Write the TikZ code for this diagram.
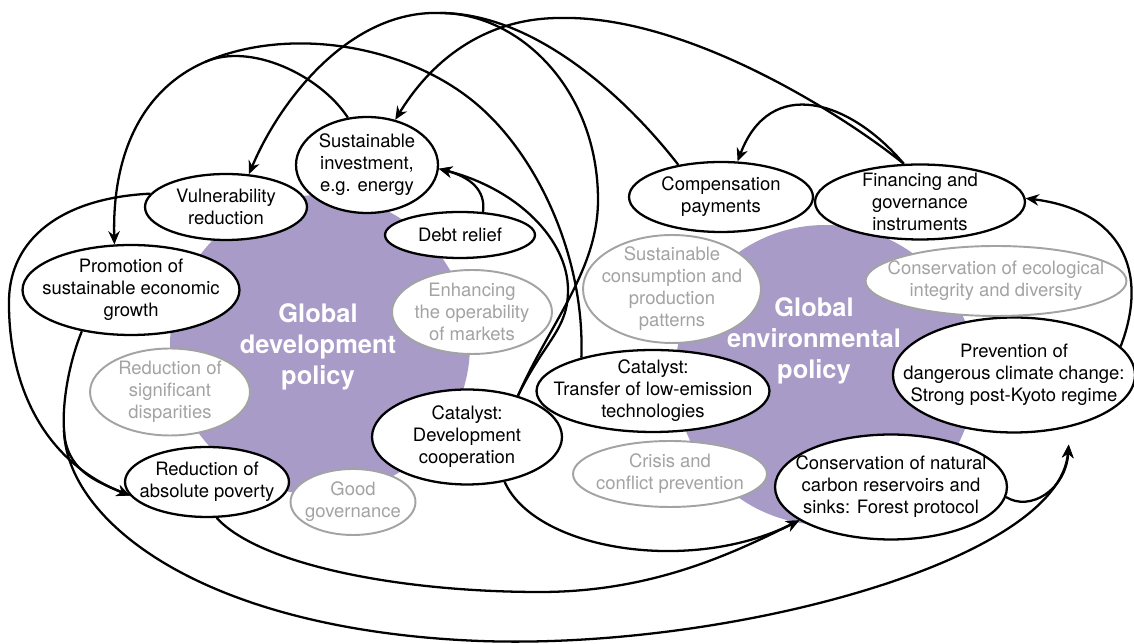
\documentclass[tikz,border=0pt]{standalone}
\usepackage{fontspec}
\setmainfont{TeX Gyre Heros}
\usetikzlibrary{shapes.geometric,arrows.meta}
\definecolor{policy}{RGB}{169,155,200}
\definecolor{faded}{RGB}{163,163,163}
\tikzset{
	bubble/.style={ellipse,draw,fill=white,line width=1.3pt,inner sep=-2cm,align=center,font=\fontsize{10.5}{12.5}\selectfont},
	ghost/.style={bubble,draw=faded,text=faded,line width=1.1pt},
	disc/.style={circle,fill=policy,minimum size=6cm},
	heading/.style={text=white,align=center,font=\fontsize{14.5}{17.6}\selectfont\bfseries},
	link/.style={line width=1.3pt,-{Stealth[length=7.5pt,width=6.5pt]}},
	feed/.style={line width=1.3pt}
}
\begin{document}
\begin{tikzpicture}[x=0.02cm,y=-0.02cm]
	\useasboundingbox (0,0) rectangle (1134,644);
	\node[disc] (devdisc) at (320,345) {};
	\node[disc] (envdisc) at (825,375) {};
	\node[heading] (devhead) at (318,347) {Global\\development\\policy};
	\node[heading] (envhead) at (814,341) {Global\\environmental\\policy};
	\node[bubble,minimum width=2.84cm,minimum height=1.92cm] (invest) at (367,165) {Sustainable\\investment,\\e.g. energy};
	\node[bubble,minimum width=3.24cm,minimum height=1.32cm] (vuln) at (226,207) {Vulnerability\\reduction};
	\node[bubble,minimum width=3.0cm,minimum height=0.92cm] (debt) at (460,235) {Debt relief};
	\node[bubble,minimum width=4.34cm,minimum height=1.8cm] (promo) at (131,290) {Promotion of\\sustainable economic\\growth};
	\node[bubble,minimum width=3.28cm,minimum height=1.4cm] (poverty) at (207,482) {Reduction of\\absolute poverty};
	\node[bubble,minimum width=3.8cm,minimum height=1.9cm] (devcoop) at (467,437) {Catalyst:\\Development\\cooperation};
	\node[bubble,minimum width=3.68cm,minimum height=1.4cm] (compens) at (721,197) {Compensation\\payments};
	\node[bubble,minimum width=4.2cm,minimum height=1.5cm] (finance) at (920,202) {Financing and\\governance\\instruments};
	\node[bubble,minimum width=4.66cm,minimum height=1.64cm] (transfer) at (653,391) {Catalyst:\\Transfer of low-emission\\technologies};
	\node[bubble,minimum width=4.84cm,minimum height=2.3cm] (prevent) at (1014,375) {Prevention of\\dangerous climate change:\\Strong post-Kyoto regime};
	\node[bubble,minimum width=4.64cm,minimum height=2.1cm] (carbon) at (891,487) {Conservation of natural\\carbon reservoirs and\\sinks: Forest protocol};
	\node[ghost,minimum width=3.2cm,minimum height=1.68cm] (markets) at (472,312) {Enhancing\\the operability\\of markets};
	\node[ghost,minimum width=3.2cm,minimum height=1.74cm] (dispar) at (170,392) {Reduction of\\significant\\disparities};
	\node[ghost,minimum width=2.5cm,minimum height=1.32cm] (govern) at (353,502) {Good\\governance};
	\node[ghost,minimum width=3.56cm,minimum height=2.16cm] (consum) at (672,289) {Sustainable\\consumption and\\production\\patterns};
	\node[ghost,minimum width=5.22cm,minimum height=1.4cm] (ecolog) at (996,281) {Conservation of ecological\\integrity and diversity};
	\node[ghost,minimum width=3.88cm,minimum height=1.32cm] (crisis) at (670,474) {Crisis and\\conflict prevention};
	\coordinate (apex) at (440,13);
	\coordinate (bend) at (205,62);
	\coordinate (fork) at (64,430);
	\draw[link] (devcoop.39) .. controls (550,323) and (598,270) .. (598,200) .. controls (598,90) and (520,13) .. (apex) .. controls (350,10) and (280,100) .. (vuln.55);
	\draw[feed] (compens.143) .. controls (620,90) and (530,13) .. (apex);
	\draw[link] (transfer.155) .. controls (585,260) and (540,160) .. (480,107) .. controls (410,45) and (290,25) .. (bend) .. controls (145,88) and (112,150) .. (promo.110);
	\draw[feed] (invest.112) .. controls (320,75) and (250,42) .. (bend);
	\draw[link] (finance.113) .. controls (850,120) and (690,15) .. (560,18) .. controls (490,18) and (435,55) .. (invest.58);
	\draw[link] (finance.113) .. controls (850,100) and (770,75) .. (compens.65);
	\draw[link] (debt.45) .. controls (486,190) and (470,177) .. (invest.-3);
	\draw[link] (devcoop.39) .. controls (545,340) and (568,330) .. (568,290) .. controls (568,240) and (518,189) .. (invest.-3);
	\draw[link] (vuln.170) .. controls (60,198) and (10,240) .. (9,300) .. controls (8,380) and (40,460) .. (poverty.190);
	\draw[feed] (promo.220) .. controls (70,360) and (62,400) .. (fork);
	\draw[link] (fork) .. controls (66,470) and (95,481) .. (poverty.190);
	\draw[link,shorten >=10pt] (fork) .. controls (66,520) and (200,630) .. (480,641) .. controls (730,650) and (1060,560) .. (prevent.-43);
	\draw[link,shorten >=10pt] (carbon.-5) .. controls (1030,512) and (1066,490) .. (prevent.-43);
	\draw[link] (poverty.-75) .. controls (260,565) and (400,592) .. (540,592) .. controls (650,592) and (730,555) .. (carbon.200);
	\draw[link] (devcoop.-50) .. controls (535,550) and (690,575) .. (carbon.200);
	\draw[link] (prevent.15) .. controls (1150,270) and (1120,210) .. (finance.2);
\end{tikzpicture}
\end{document}
